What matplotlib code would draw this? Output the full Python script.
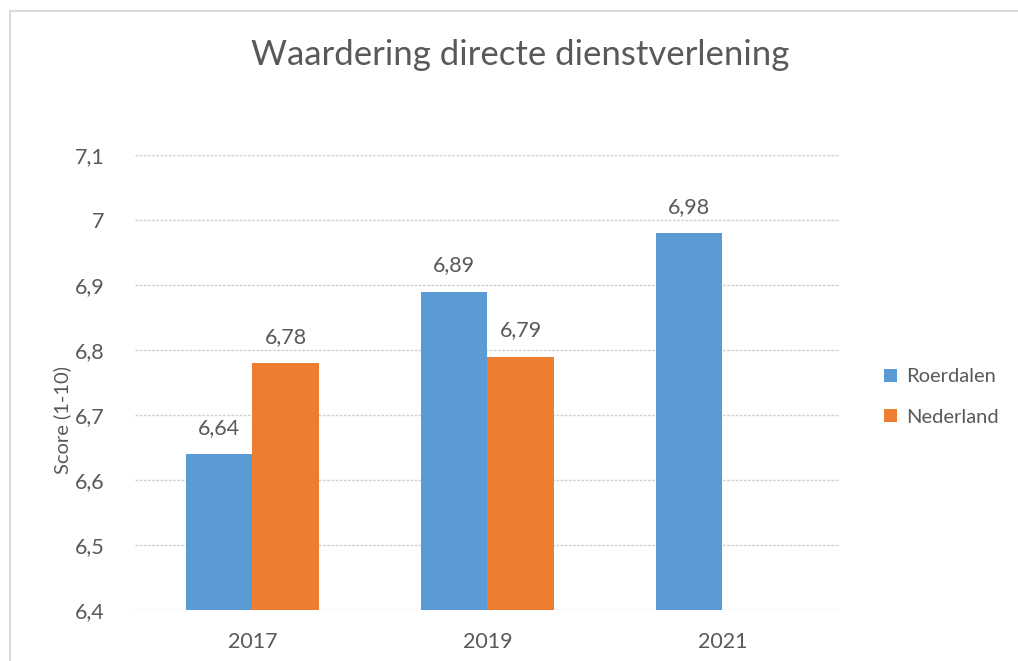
import matplotlib.pyplot as plt
import matplotlib.ticker as mticker
import numpy as np

# scores per meetjaar
jaren = ['2017', '2019', '2021']
roerdalen = [6.64, 6.89, 6.98]
nederland = [6.78, 6.79, np.nan]  # 2021 nog geen landelijk cijfer

blauw = '#5B9BD5'
oranje = '#ED7D31'
tekst = '#595959'

plt.rcParams['font.family'] = ['Lato', 'DejaVu Sans']


def komma(v):
    s = ('%.2f' % v).rstrip('0').rstrip('.')
    return s.replace('.', ',')


fig = plt.figure(figsize=(10.18, 6.61), dpi=100)
ax = fig.add_axes([135 / 1018, 1 - 610 / 661, 705 / 1018, 455 / 661])

x = np.arange(len(jaren))
w = 0.285
b1 = ax.bar(x - w / 2, roerdalen, w, color=blauw, label='Roerdalen', zorder=3)
b2 = ax.bar(x + w / 2, nederland, w, color=oranje, label='Nederland', zorder=3)

for bars, vals in ((b1, roerdalen), (b2, nederland)):
    for rect, v in zip(bars, vals):
        if np.isnan(v):
            continue
        ax.text(rect.get_x() + rect.get_width() / 2, v + 0.025, komma(v),
                ha='center', va='bottom', fontsize=15.5, color=tekst)

ax.set_xlim(-0.5, 2.5)
ax.set_ylim(6.4, 7.1)
ax.set_yticks(np.arange(6.4, 7.1001, 0.1))
ax.yaxis.set_major_formatter(mticker.FuncFormatter(lambda v, p: komma(v)))
ax.set_xticks(x)
ax.set_xticklabels(jaren)
ax.tick_params(length=0, labelsize=15.5, labelcolor=tekst, pad=16)
ax.tick_params(axis='y', pad=22)

ax.grid(axis='y', color='#d0d0d0', linewidth=1, linestyle=(0, (2, 1)), zorder=0)
for s in ax.spines.values():
    s.set_visible(False)

fig.text(62 / 1018, 1 - 420 / 661, 'Score (1-10)', rotation=90,
         ha='center', va='center', fontsize=14.5, color=tekst)

fig.text(520 / 1018, 1 - 55 / 661, 'Waardering directe dienstverlening',
         ha='center', va='center', fontsize=25, color=tekst)

leg = fig.legend(handles=[b1, b2], loc='center left',
                 bbox_to_anchor=(866 / 1018, 1 - 397 / 661), frameon=False,
                 fontsize=14.5, handlelength=0.65, handleheight=0.65,
                 handletextpad=0.45, labelspacing=1.15)
for t in leg.get_texts():
    t.set_color(tekst)

# kaderlijnen links en boven
fig.add_artist(plt.Line2D([10 / 1018, 10 / 1018], [0, 1 - 11 / 661],
                          color='#d9d9d9', linewidth=1.5))
fig.add_artist(plt.Line2D([10 / 1018, 1], [1 - 11 / 661, 1 - 11 / 661],
                          color='#d9d9d9', linewidth=1.5))

fig.savefig('out.png', dpi=100)
